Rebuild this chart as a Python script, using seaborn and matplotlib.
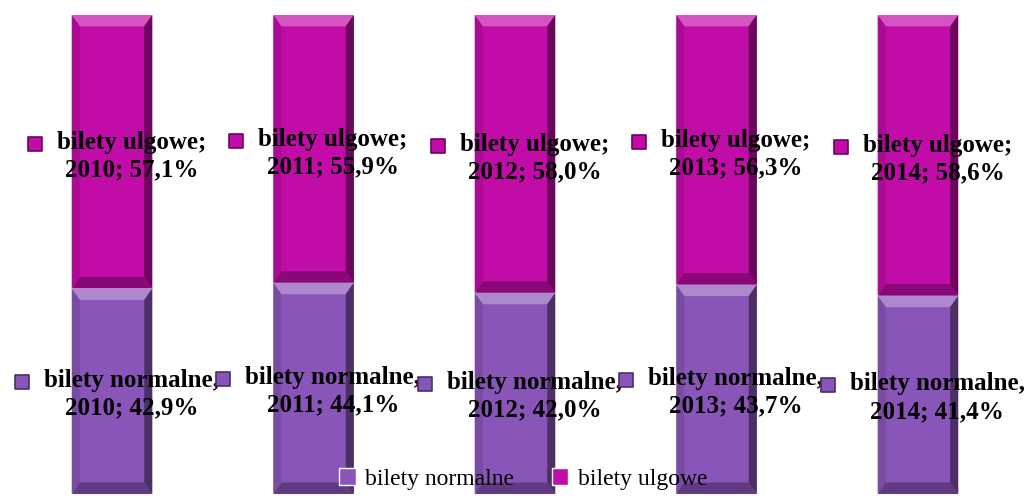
import matplotlib
matplotlib.use('Agg')
import matplotlib.pyplot as plt
import matplotlib.colors as mcolors
from matplotlib.patches import Polygon
import seaborn as sns
import pandas as pd

# Dane
lata = ['2010', '2011', '2012', '2013', '2014']
bilety_normalne = [42.9, 44.1, 42.0, 43.7, 41.4]
bilety_ulgowe = [57.1, 55.9, 58.0, 56.3, 58.6]
serie = ['bilety normalne', 'bilety ulgowe']
kolory = ['#8A55B8', '#C10CA8']

sns.set_style('white')
plt.rcParams['font.family'] = ['Liberation Serif', 'DejaVu Serif']
plt.rcParams['text.color'] = 'black'

fig = plt.figure(figsize=(10.3, 4.96), dpi=100)
ax = fig.add_axes([0, 0.004, 1, 0.966])

df = pd.DataFrame({'rok': lata, 'normalne': bilety_normalne, 'ulgowe': bilety_ulgowe})
df['suma'] = df['normalne'] + df['ulgowe']

# słupek górny (cały 100%) i dolny na wierzchu
sns.barplot(data=df, x='rok', y='suma', color=kolory[1], width=0.4, ax=ax,
            saturation=1, label=serie[1])
sns.barplot(data=df, x='rok', y='normalne', color=kolory[0], width=0.4, ax=ax,
            saturation=1, label=serie[0])


def shade(c, f):
    r, g, b = mcolors.to_rgb(c)
    if f > 0:
        return (r + (1 - r) * f, g + (1 - g) * f, b + (1 - b) * f)
    return (r * (1 + f), g * (1 + f), b * (1 + f))


# efekt fazowania (bevel) na podstawie geometrii słupków
n = len(lata)
for i, p in enumerate(ax.patches[:2 * n]):
    base = kolory[1] if i < n else kolory[0]
    x0, w = p.get_x(), p.get_width()
    y0, h = p.get_y(), p.get_height()
    if i < n:
        y0, h = df['normalne'][i], df['ulgowe'][i]
    x1, y1 = x0 + w, y0 + h
    bx, by = w * 0.1, 2.4
    ax.add_patch(Polygon([(x0, y1), (x1, y1), (x1 - bx, y1 - by), (x0 + bx, y1 - by)],
                         color=shade(base, 0.3), lw=0, zorder=3))
    ax.add_patch(Polygon([(x1, y1), (x1, y0), (x1 - bx, y0 + by), (x1 - bx, y1 - by)],
                         color=shade(base, -0.45), lw=0, zorder=3))
    ax.add_patch(Polygon([(x0, y0), (x1, y0), (x1 - bx, y0 + by), (x0 + bx, y0 + by)],
                         color=shade(base, -0.3), lw=0, zorder=3))
    ax.add_patch(Polygon([(x0, y0), (x0, y1), (x0 + bx, y1 - by), (x0 + bx, y0 + by)],
                         color=shade(base, -0.12), lw=0, zorder=3))

ax.set_xlim(-0.556, 4.556)
ax.set_ylim(0, 100)
ax.axis('off')

# etykiety danych
etykiety = []
for i, rok in enumerate(lata):
    t1 = ax.annotate(f'bilety ulgowe;\n{rok}; {bilety_ulgowe[i]:.1f}%'.replace('.', ','),
                     (i, bilety_normalne[i] + bilety_ulgowe[i] / 2), xytext=(14, -3),
                     textcoords='offset points', ha='center', va='center',
                     fontsize=18, fontweight='bold', linespacing=1.25, zorder=5)
    etykiety.append((t1, kolory[1]))
    t2 = ax.annotate(f'bilety normalne,\n{rok}; {bilety_normalne[i]:.1f}%'.replace('.', ','),
                     (i, bilety_normalne[i] / 2), xytext=(14, -2),
                     textcoords='offset points', ha='center', va='center',
                     fontsize=18, fontweight='bold', linespacing=1.25, zorder=5)
    etykiety.append((t2, kolory[0]))

fig.canvas.draw()
r = fig.canvas.get_renderer()
for t, c in etykiety:
    bb = t.get_window_extent(r)
    ax.scatter([bb.x0 - 22], [bb.y1 - 13], marker='s', s=90, color=c,
               edgecolor=shade(c, -0.45), linewidth=1.2, transform=None, zorder=6)

h, l = ax.get_legend_handles_labels()
ax.legend(h[::-1], l[::-1], loc='lower center', bbox_to_anchor=(0.508, -0.036), ncol=2,
          frameon=False, fontsize=17, handlelength=0.7, handleheight=0.7,
          handletextpad=0.4, columnspacing=1.6, labelcolor='black')

fig.savefig('out.png', dpi=100)
